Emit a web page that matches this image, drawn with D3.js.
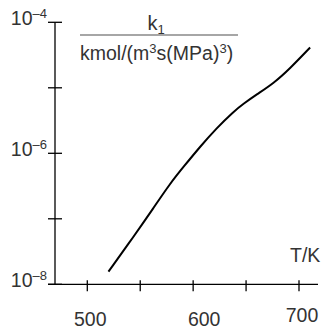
<!DOCTYPE html>
<html>
<head>
<meta charset="utf-8">
<script src="https://cdn.jsdelivr.net/npm/d3@7"></script>
<style>
  html, body { margin: 0; padding: 0; background: #fff; }
  svg { display: block; font-family: "Liberation Sans", Arial, sans-serif; }
</style>
</head>
<body>
<div id="chart"></div>
<script>
// curve: temperature (K) and rate constant k1
const temps = [520, 543.5, 562.5, 578, 591, 606.5, 622, 638, 647.5, 660, 676, 691.5, 710.5];
const k1Vals = [1.56e-8, 5.27e-8, 1.46e-7, 3.42e-7, 6.24e-7, 1.26e-6, 2.41e-6,
                4.31e-6, 5.70e-6, 7.91e-6, 1.17e-5, 1.97e-5, 4.12e-5];

const xTicks = [500, 550, 600, 650, 700];
const xLabels = [500, 600, 700];
const yExps = [-8, -7, -6, -5, -4];
const yLabelExps = [-8, -6, -4];

const W = 321, H = 330;
const textCol = "#333";

const svg = d3.select("#chart").append("svg")
  .attr("width", W).attr("height", H);

const x = d3.scaleLinear().domain([500, 700]).range([87.3, 299]);
const y = d3.scaleLog().domain([1e-8, 1e-4]).range([284.3, 22.3]);

const axisX = 55;        // y axis position
const axisEnd = 318;     // right end of x axis
const y0 = y(1e-8);

// --- axes lines ---
svg.append("line")
  .attr("x1", axisX).attr("x2", axisX)
  .attr("y1", y(1e-4)).attr("y2", y0)
  .attr("stroke", "#000").attr("stroke-width", 1.3);

svg.append("line")
  .attr("x1", axisX - 7).attr("x2", axisEnd)
  .attr("y1", y0).attr("y2", y0)
  .attr("stroke", "#000").attr("stroke-width", 1.3);

// --- y ticks (cross the axis) ---
svg.selectAll("line.ytick")
  .data(yExps)
  .enter().append("line")
  .attr("class", "ytick")
  .attr("x1", axisX - 7).attr("x2", axisX + 7)
  .attr("y1", d => y(Math.pow(10, d)))
  .attr("y2", d => y(Math.pow(10, d)))
  .attr("stroke", "#000").attr("stroke-width", 1.3);

const yLab = svg.selectAll("text.ylab")
  .data(yLabelExps)
  .enter().append("text")
  .attr("class", "ylab")
  .attr("x", 47)
  .attr("y", d => y(Math.pow(10, d)) + 3)
  .attr("text-anchor", "end")
  .attr("font-size", 19.5)
  .attr("fill", textCol);
yLab.append("tspan").text("10");
yLab.append("tspan")
  .attr("dy", -7)
  .attr("font-size", 13)
  .text(d => "\u2013" + Math.abs(d));

// --- x ticks ---
svg.selectAll("line.xtick")
  .data(xTicks)
  .enter().append("line")
  .attr("class", "xtick")
  .attr("x1", d => x(d)).attr("x2", d => x(d))
  .attr("y1", y0 - 4).attr("y2", y0 + 7)
  .attr("stroke", "#000").attr("stroke-width", 1.3);

// small nudges so labels sit where the original has them
const nudge = { 500: [3, 0], 600: [11, 0], 700: [3, -4] };
svg.selectAll("text.xlab")
  .data(xLabels)
  .enter().append("text")
  .attr("class", "xlab")
  .attr("x", d => x(d) + nudge[d][0])
  .attr("y", d => 326 + nudge[d][1])
  .attr("text-anchor", "middle")
  .attr("font-size", 19.5)
  .attr("fill", textCol)
  .text(d => d);

svg.append("text")
  .attr("x", 290).attr("y", 261.5)
  .attr("font-size", 19.5)
  .attr("fill", textCol)
  .text("T/K");

// --- quantity label (fraction) ---
const title = svg.append("text")
  .attr("x", 156).attr("y", 30)
  .attr("text-anchor", "middle")
  .attr("font-size", 20)
  .attr("fill", textCol);
title.append("tspan").text("k");
title.append("tspan").attr("dy", 4).attr("font-size", 13).text("1");

svg.append("line")
  .attr("x1", 80).attr("x2", 238)
  .attr("y1", 35).attr("y2", 35)
  .attr("stroke", "#888").attr("stroke-width", 1.5);

const unit = svg.append("text")
  .attr("x", 80).attr("y", 60)
  .attr("font-size", 19.5)
  .attr("fill", textCol);
unit.append("tspan").text("kmol/(m");
unit.append("tspan").attr("dy", -7).attr("font-size", 13).text("3");
unit.append("tspan").attr("dy", 7).text("s(MPa)");
unit.append("tspan").attr("dy", -7).attr("font-size", 13).text("3");
unit.append("tspan").attr("dy", 7).text(")");

// --- curve ---
const pts = temps.map((t, i) => [t, k1Vals[i]]);
const line = d3.line()
  .x(d => x(d[0]))
  .y(d => y(d[1]))
  .curve(d3.curveBasis);

svg.append("path")
  .datum(pts)
  .attr("d", line)
  .attr("fill", "none")
  .attr("stroke", "#000")
  .attr("stroke-width", 2);
</script>
</body>
</html>
